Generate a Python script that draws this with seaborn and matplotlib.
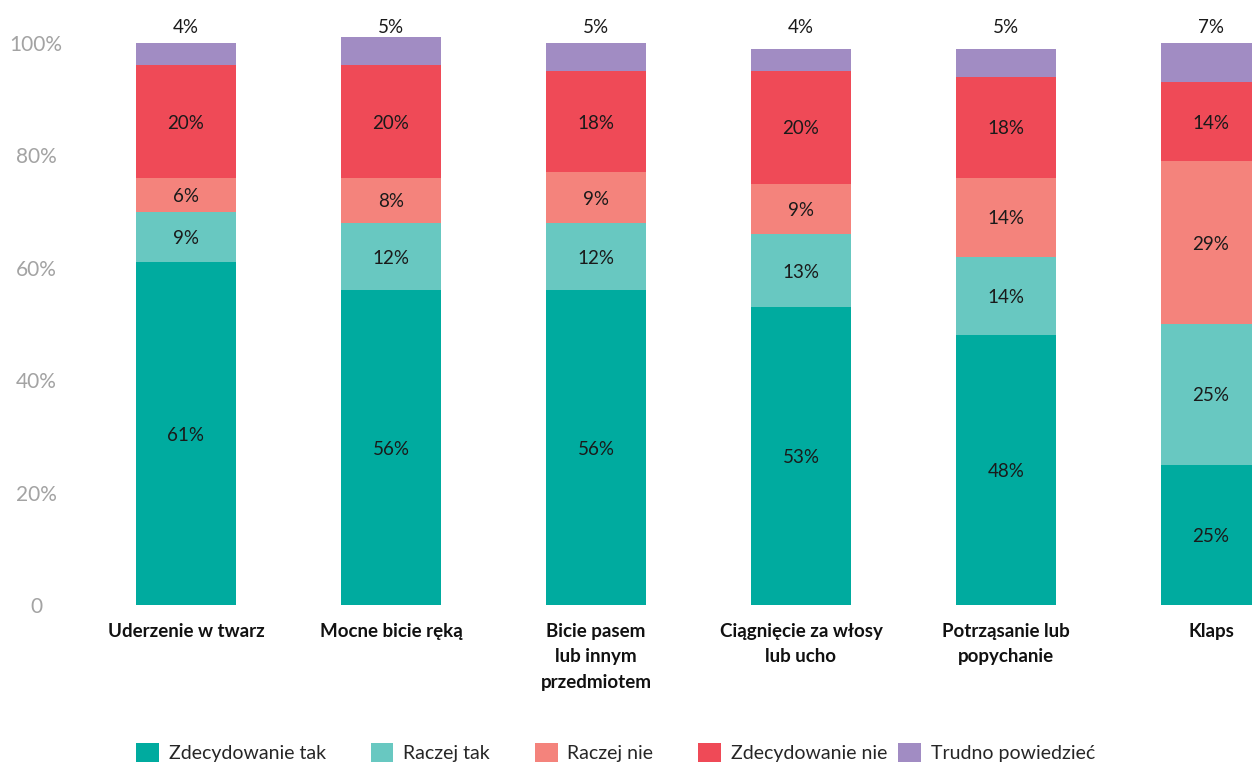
import matplotlib
matplotlib.use("Agg")
import matplotlib.pyplot as plt
from matplotlib.patches import Patch
import numpy as np
import pandas as pd
import seaborn as sns

# ---- data -------------------------------------------------------------
categories = [
    "Uderzenie w twarz",
    "Mocne bicie ręką",
    "Bicie pasem\nlub innym\nprzedmiotem",
    "Ciągnięcie za włosy\nlub ucho",
    "Potrząsanie lub\npopychanie",
    "Klaps",
]
series_names = ["Zdecydowanie tak", "Raczej tak", "Raczej nie",
                "Zdecydowanie nie", "Trudno powiedzieć"]
zdecydowanie_tak = [61, 56, 56, 53, 48, 25]
raczej_tak = [9, 12, 12, 13, 14, 25]
raczej_nie = [6, 8, 9, 9, 14, 29]
zdecydowanie_nie = [20, 20, 18, 20, 18, 14]
trudno_powiedziec = [4, 5, 5, 4, 5, 7]
y_ticks = [0, 20, 40, 60, 80, 100]
y_tick_labels = ["0", "20%", "40%", "60%", "80%", "100%"]

colors = ["#00ab9f", "#68c8c1", "#f4837c", "#ef4a57", "#a18cc3"]

# ---- style ------------------------------------------------------------
sns.set_style("white")
plt.rcParams["font.family"] = ["Lato", "DejaVu Sans"]

values = np.array([zdecydowanie_tak, raczej_tak, raczej_nie,
                   zdecydowanie_nie, trudno_powiedziec], dtype=float)
cum = values.cumsum(axis=0)
bottoms = cum - values

W, H = 1252, 762
fig = plt.figure(figsize=(W / 100, H / 100), dpi=100)
ax = fig.add_axes([80 / W, (H - 605) / H, 1 - 80 / W, 605 / H])

# stacked bars: draw cumulative totals from the top segment down
for i in reversed(range(len(series_names))):
    df = pd.DataFrame({"kategoria": categories, "suma": cum[i]})
    sns.barplot(data=df, x="kategoria", y="suma", order=categories,
                color=colors[i], saturation=1, width=0.488,
                errorbar=None, linewidth=0, ax=ax)

ax.set_xlim(-0.517, 5.2)
ax.set_ylim(0, 605 / 5.62)

# value labels: inside each segment, the last one above the bar
for j in range(len(categories)):
    for i in range(len(series_names)):
        v = values[i, j]
        if i == len(series_names) - 1:
            y = 103.0
        else:
            y = bottoms[i, j] + v / 2
        ax.text(j, y, f"{int(v)}%", ha="center", va="center_baseline",
                fontsize=13.5, color="#1a1a1a")

ax.set_xlabel("")
ax.set_ylabel("")
ax.set_xticks(range(len(categories)))
ax.set_xticklabels(categories, fontweight="bold", fontsize=13.5,
                   color="#111111", linespacing=1.6, va="top")
ax.tick_params(axis="x", length=0, pad=13)

ax.set_yticks(y_ticks)
ax.set_yticklabels(y_tick_labels, fontsize=15, color="#a3a3a3", ha="center")
ax.tick_params(axis="y", length=0, pad=31.5)

for s in ax.spines.values():
    s.set_visible(False)
ax.grid(False)

# legend along the bottom edge (last entry sits a little closer)
handles = [Patch(facecolor=c, edgecolor="none") for c in colors]
legend_kw = dict(loc="center left", frameon=False, fontsize=14,
                 handlelength=1.18, handleheight=1.18, handletextpad=0.5,
                 columnspacing=2.3, borderpad=0, borderaxespad=0)
fig.legend(handles[:4], series_names[:4], ncol=4,
           bbox_to_anchor=(136 / W, 0.012), **legend_kw)
fig.legend(handles[4:], series_names[4:], ncol=1,
           bbox_to_anchor=(898 / W, 0.012), **legend_kw)

fig.savefig("out.png", dpi=100)
